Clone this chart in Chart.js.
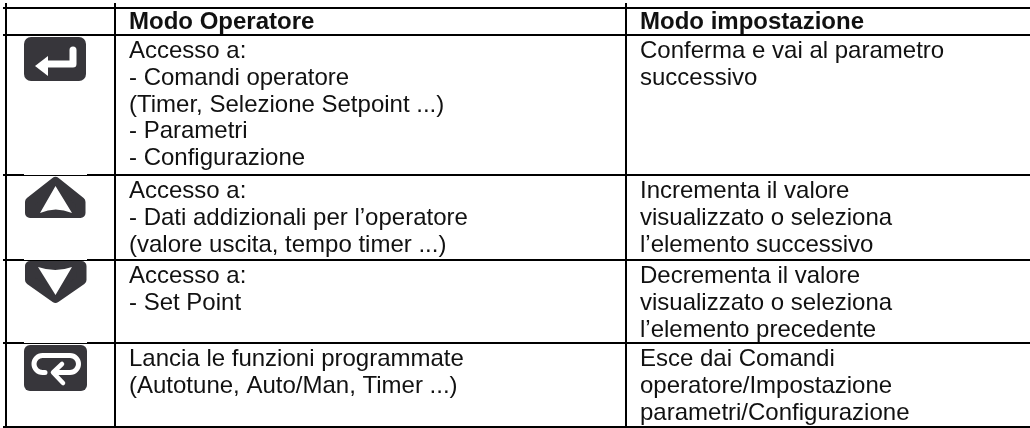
<!DOCTYPE html>
<html>
<head>
<meta charset="utf-8">
<style>
  html, body { margin: 0; padding: 0; background: #fff; }
  #chart_wrap { width: 1030px; height: 428px; }
</style>
<script src="https://cdn.jsdelivr.net/npm/chart.js@4"></script>
</head>
<body>
<div id="chart_wrap"><canvas id="chart_root"></canvas></div>
<script>
const columnEdges = [6, 115, 626];
const rowEdges = [8, 35, 175, 260, 343, 427];
const columnHeads = ['Modo Operatore', 'Modo impostazione'];
const rowIcons = ['enter', 'up', 'down', 'loop'];
const operatorLines = [
  ['Accesso a:', '- Comandi operatore', '(Timer, Selezione Setpoint ...)', '- Parametri', '- Configurazione'],
  ['Accesso a:', '- Dati addizionali per l\u2019operatore', '(valore uscita, tempo timer ...)'],
  ['Accesso a:', '- Set Point'],
  ['Lancia le funzioni programmate', '(Autotune, Auto/Man, Timer ...)']
];
const settingLines = [
  ['Conferma e vai al parametro', 'successivo'],
  ['Incrementa il valore', 'visualizzato o seleziona', 'l\u2019elemento successivo'],
  ['Decrementa il valore', 'visualizzato o seleziona', 'l\u2019elemento precedente'],
  ['Esce dai Comandi', 'operatore/Impostazione', 'parametri/Configurazione']
];

const FONT_SIZE = 24;
const LINE_HEIGHT = 26.8;
const TEXT_INSET = 14;
const ICON_DARK = '#37363b';

const roundedRect = (ctx, x, y, w, h, r) => {
  ctx.beginPath();
  ctx.roundRect(x, y, w, h, r);
  ctx.fill();
};

// icons are drawn relative to the top left corner of their row
const iconPainters = {
  enter(ctx, x, y) {
    ctx.fillStyle = ICON_DARK;
    roundedRect(ctx, x + 24, y + 2, 62, 44, 7);
    ctx.strokeStyle = '#fff';
    ctx.fillStyle = '#fff';
    ctx.lineWidth = 7;
    ctx.lineJoin = 'round';
    ctx.lineCap = 'round';
    ctx.beginPath();
    ctx.moveTo(x + 73, y + 15);
    ctx.lineTo(x + 73, y + 29);
    ctx.lineTo(x + 46, y + 29);
    ctx.stroke();
    ctx.beginPath();
    ctx.moveTo(x + 35, y + 31);
    ctx.lineTo(x + 48, y + 21);
    ctx.lineTo(x + 48, y + 41);
    ctx.closePath();
    ctx.fill();
  },
  up(ctx, x, y) {
    ctx.fillStyle = ICON_DARK;
    ctx.strokeStyle = ICON_DARK;
    ctx.lineWidth = 10;
    ctx.lineJoin = 'round';
    ctx.beginPath();
    ctx.moveTo(x + 55.5, y + 7);
    ctx.lineTo(x + 80.5, y + 27);
    ctx.lineTo(x + 80.5, y + 38);
    ctx.lineTo(x + 30, y + 38);
    ctx.lineTo(x + 30, y + 27);
    ctx.closePath();
    ctx.fill();
    ctx.stroke();
    ctx.fillStyle = '#fff';
    ctx.beginPath();
    ctx.moveTo(x + 55.5, y + 11);
    ctx.lineTo(x + 72, y + 38);
    ctx.quadraticCurveTo(x + 55.5, y + 31, x + 40, y + 38);
    ctx.closePath();
    ctx.fill();
  },
  down(ctx, x, y) {
    ctx.fillStyle = ICON_DARK;
    ctx.strokeStyle = ICON_DARK;
    ctx.lineWidth = 10;
    ctx.lineJoin = 'round';
    ctx.beginPath();
    ctx.moveTo(x + 30, y + 6);
    ctx.lineTo(x + 81.5, y + 6);
    ctx.lineTo(x + 81.5, y + 20);
    ctx.lineTo(x + 55.5, y + 38);
    ctx.lineTo(x + 30, y + 20);
    ctx.closePath();
    ctx.fill();
    ctx.stroke();
    ctx.fillStyle = '#fff';
    ctx.beginPath();
    ctx.moveTo(x + 38, y + 7);
    ctx.quadraticCurveTo(x + 55.5, y + 13, x + 72, y + 7);
    ctx.lineTo(x + 55.5, y + 35);
    ctx.closePath();
    ctx.fill();
  },
  loop(ctx, x, y) {
    ctx.fillStyle = ICON_DARK;
    roundedRect(ctx, x + 24, y + 2, 63, 46, 6);
    ctx.strokeStyle = '#fff';
    ctx.lineWidth = 5;
    ctx.lineCap = 'round';
    ctx.lineJoin = 'round';
    ctx.beginPath();
    ctx.moveTo(x + 45, y + 29.5);
    ctx.lineTo(x + 42.5, y + 29.5);
    ctx.arc(x + 42.5, y + 21, 8.5, Math.PI / 2, Math.PI * 1.5);
    ctx.lineTo(x + 70, y + 12.5);
    ctx.arc(x + 70, y + 21, 8.5, -Math.PI / 2, Math.PI / 2);
    ctx.lineTo(x + 55, y + 29.5);
    ctx.stroke();
    ctx.lineWidth = 4.5;
    ctx.beginPath();
    ctx.moveTo(x + 62, y + 21);
    ctx.lineTo(x + 53, y + 29.5);
    ctx.lineTo(x + 63, y + 40);
    ctx.stroke();
  }
};

const tablePlugin = {
  id: 'tableCells',
  afterDraw(chart) {
    const { ctx, scales: { x, y } } = chart;
    ctx.save();
    ctx.textBaseline = 'alphabetic';
    ctx.fillStyle = '#111';

    ctx.font = 'bold ' + FONT_SIZE + 'px "Liberation Sans"';
    columnHeads.forEach((head, i) => {
      ctx.fillText(head, x.getPixelForValue(columnEdges[i + 1]) + TEXT_INSET, y.getPixelForValue(rowEdges[1]) - 6);
    });

    ctx.font = FONT_SIZE + 'px "Liberation Sans"';
    [operatorLines, settingLines].forEach((column, c) => {
      const left = x.getPixelForValue(columnEdges[c + 1]) + TEXT_INSET;
      column.forEach((lines, r) => {
        const top = y.getPixelForValue(rowEdges[r + 1]);
        lines.forEach((line, l) => {
          ctx.fillText(line, left, top + 23 + l * LINE_HEIGHT);
        });
      });
    });

    rowIcons.forEach((icon, r) => {
      const top = y.getPixelForValue(rowEdges[r + 1]);
      ctx.save();
      // the pasted key images clip the rule above them, except on the first row
      if (r > 0) {
        ctx.fillStyle = '#fff';
        ctx.fillRect(24, top - 1, 63, 1);
      }
      iconPainters[icon](ctx, 0, top);
      ctx.restore();
    });
    ctx.restore();
  }
};

const edgeTicks = (edges) => (scale) => {
  scale.ticks = edges.map((value) => ({ value }));
};

new Chart(document.getElementById('chart_root'), {
  type: 'scatter',
  data: { datasets: [] },
  options: {
    responsive: true,
    maintainAspectRatio: false,
    animation: false,
    layout: { padding: { left: 3, top: 3, right: 0, bottom: 0 } },
    plugins: { legend: { display: false }, tooltip: { enabled: false } },
    scales: {
      x: {
        type: 'linear',
        min: 3,
        max: 1030,
        afterBuildTicks: edgeTicks(columnEdges),
        ticks: { display: false },
        border: { display: false },
        grid: { color: '#000', lineWidth: 2, drawTicks: false }
      },
      y: {
        type: 'linear',
        reverse: true,
        min: 3,
        max: 428,
        afterBuildTicks: edgeTicks(rowEdges),
        ticks: { display: false },
        border: { display: false },
        grid: { color: '#000', lineWidth: 2, drawTicks: false }
      }
    }
  },
  plugins: [tablePlugin]
});
</script>
</body>
</html>
